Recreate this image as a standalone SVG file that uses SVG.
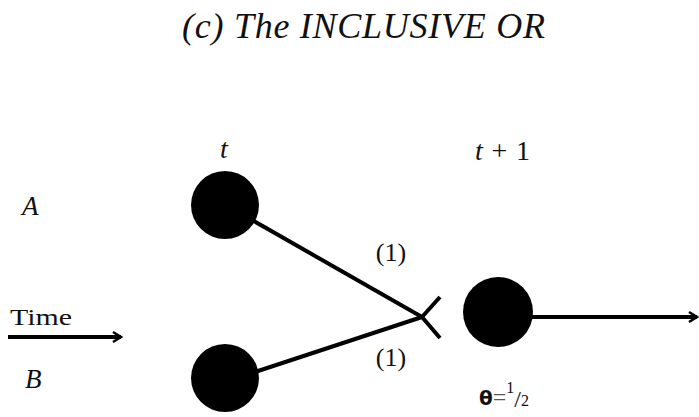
<svg xmlns="http://www.w3.org/2000/svg" width="699" height="417" viewBox="0 0 699 417">
<style>
.t{font-family:"Liberation Serif","DejaVu Serif",serif;fill:#111}
.i{font-style:italic}
.ln{stroke:#000;stroke-width:4;fill:none;stroke-linecap:butt}
.n{fill:#000}
</style>
<defs>
<marker id="ah" markerWidth="14" markerHeight="14" refX="11" refY="7" orient="auto" markerUnits="userSpaceOnUse">
<path d="M3,2 L11,7 L3,12" fill="none" stroke="#000" stroke-width="2.5"/>
</marker>
</defs>
<rect width="699" height="417" fill="#fff"/>
<text class="t i" x="182" y="38" font-size="36" textLength="363" lengthAdjust="spacing">(c) The INCLUSIVE OR</text>
<text class="t i" x="22" y="215" font-size="27">A</text>
<text class="t i" x="25" y="388" font-size="27">B</text>
<text class="t i" x="224" y="158" font-size="28" text-anchor="middle">t</text>
<text class="t i" x="475" y="160" font-size="28" textLength="55" lengthAdjust="spacing">t <tspan font-style="normal">+ 1</tspan></text>
<text class="t" x="10" y="325" font-size="24" textLength="62" lengthAdjust="spacingAndGlyphs">Time</text>
<text class="t" x="391" y="261" font-size="26" text-anchor="middle">(1)</text>
<text class="t" x="391" y="366" font-size="26" text-anchor="middle">(1)</text>
<text x="479" y="405" font-size="20" font-family="DejaVu Sans,sans-serif" font-weight="bold" fill="#111">θ<tspan font-family="Liberation Serif,serif" font-weight="normal" font-size="24" fill="#555">=</tspan><tspan font-family="Liberation Serif,serif" font-weight="normal" font-size="16" dy="-12">1</tspan><tspan font-family="Liberation Serif,serif" font-weight="normal" font-size="24" dy="14">/</tspan><tspan font-family="Liberation Serif,serif" font-weight="normal" font-size="16" dy="-1">2</tspan></text>
<g id="connectors">
<line class="ln" x1="8" y1="337" x2="121" y2="337" marker-end="url(#ah)"/>
<line class="ln" x1="252" y1="220" x2="422" y2="317"/>
<line class="ln" x1="255" y1="372" x2="422" y2="317"/>
<line class="ln" x1="422" y1="317" x2="440" y2="297"/>
<line class="ln" x1="422" y1="317" x2="440" y2="338"/>
<line class="ln" x1="530" y1="317" x2="697" y2="317" stroke-width="3" marker-end="url(#ah)"/>
</g>
<g id="nodeA"><circle class="n" cx="225" cy="205" r="34"/></g>
<g id="nodeB"><circle class="n" cx="225" cy="378" r="34"/></g>
<g id="nodeOut"><circle class="n" cx="498" cy="312" r="35"/></g>
</svg>
